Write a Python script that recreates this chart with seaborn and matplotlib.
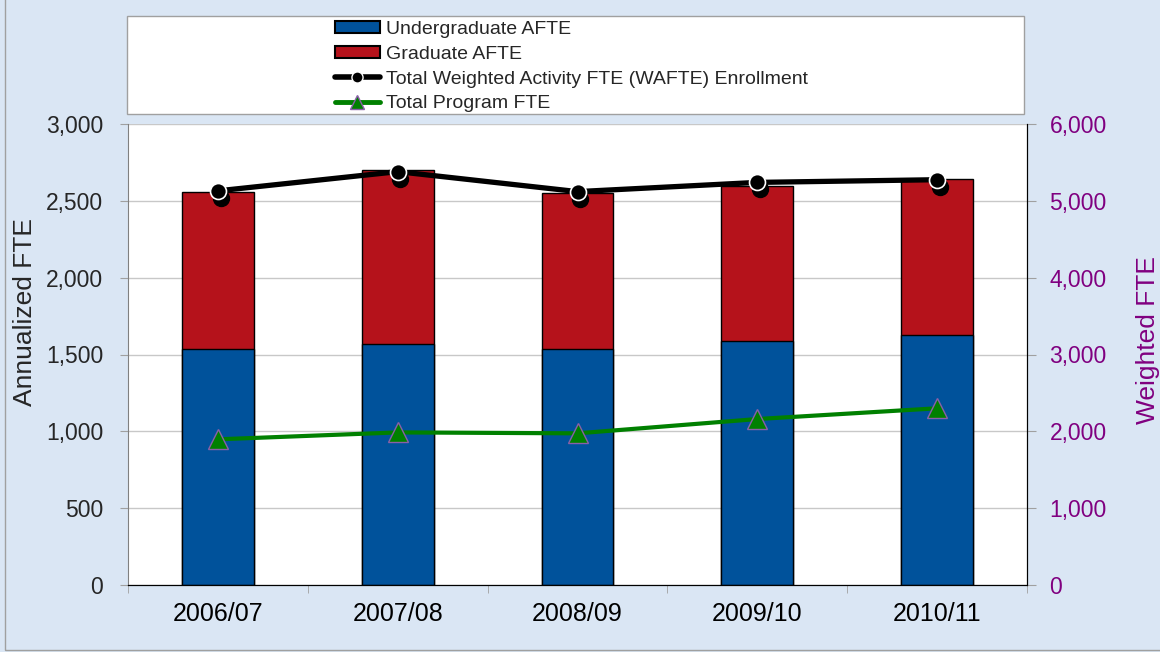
import numpy as np
import matplotlib
matplotlib.use("Agg")
import matplotlib.pyplot as plt
import seaborn as sns
from matplotlib.patches import Patch, Rectangle
from matplotlib.lines import Line2D
from matplotlib.ticker import FuncFormatter
from matplotlib.transforms import offset_copy

# values
years = ["2006/07", "2007/08", "2008/09", "2009/10", "2010/11"]
undergrad_afte = [1534, 1566, 1534, 1586, 1629]
graduate_afte = [1026, 1136, 1016, 1009, 1012]
wafte_total = [5130, 5380, 5120, 5240, 5275]       # right axis
program_fte = [948, 993, 987, 1080, 1150]           # left axis

BLUE = "#00529b"
RED = "#b5121b"
GREEN = "#008000"
PURPLE = "#800080"
BG = "#dae6f4"

sns.set_style("white")
plt.rcParams["font.family"] = ["Liberation Sans", "DejaVu Sans"]

W, H = 1160, 652
fig = plt.figure(figsize=(W / 100, H / 100), dpi=100, facecolor=BG)
ax = fig.add_axes([128 / W, 1 - 585 / H, (1027 - 128) / W, (585 - 124) / H])
ax.set_facecolor("white")

# white legend box and outer frame
fig.patches.append(Rectangle((127 / W, 1 - 114 / H), (1024 - 127) / W, (114 - 16) / H,
                             transform=fig.transFigure, facecolor="white",
                             edgecolor="#a0a0a0", lw=1, zorder=0))
fig.patches.append(Rectangle((5 / W, 2 / H), 1, 1, transform=fig.transFigure,
                             facecolor="none", edgecolor="#a0a0a0", lw=1, zorder=0))

totals = [u + g for u, g in zip(undergrad_afte, graduate_afte)]
x_pos = np.arange(len(years))

sns.barplot(x=years, y=totals, color=RED, edgecolor="black", linewidth=1,
            width=0.4, saturation=1, ax=ax)
sns.barplot(x=years, y=undergrad_afte, color=BLUE, edgecolor="black", linewidth=1,
            width=0.4, saturation=1, ax=ax)

ax.plot(x_pos, program_fte, color=GREEN, lw=3, marker="^", markersize=15,
        markerfacecolor=GREEN, markeredgecolor="#8a5fa8", markeredgewidth=1, zorder=5)

ax.set_ylim(0, 3000)
ax.set_yticks(np.arange(0, 3001, 500))
ax.set_xlim(-0.5, len(years) - 0.5)
ax.yaxis.set_major_formatter(FuncFormatter(lambda v, _: f"{v:,.0f}"))
ax.grid(axis="y", color="#c8c8c8", lw=1)
ax.set_axisbelow(True)

ax.set_xticks(x_pos)
ax.set_xticklabels(years)
ax.set_xticks(np.arange(-0.5, len(years), 1), minor=True)
ax.tick_params(axis="x", which="major", length=0, pad=12.5, labelsize=18, labelcolor="black")
ax.tick_params(axis="x", which="minor", length=5.8, color="#a0a0a0", direction="out", bottom=True)
ax.tick_params(axis="y", length=5.8, color="#a0a0a0", direction="out", pad=12,
               labelsize=16.5, left=True)
ax.set_xlabel("")
ax.set_ylabel("Annualized FTE", fontsize=19, va="center")
ax.yaxis.set_label_coords((25 - 128) / 899, 0.592)

ax.spines["top"].set_visible(False)
ax.spines["left"].set_color("#808080")
ax.spines["bottom"].set_color("black")
ax.spines["right"].set_color("black")

# right axis
ax2 = ax.twinx()
ax2.set_ylim(0, 6000)
ax2.set_yticks(np.arange(0, 6001, 1000))
ax2.yaxis.set_major_formatter(FuncFormatter(lambda v, _: f"{v:,.0f}"))
ax2.plot(x_pos, wafte_total, color="black", lw=3.8, solid_capstyle="round", zorder=6)
# marker shadow, then the markers
shadow = offset_copy(ax2.transData, fig=fig, x=2, y=-5, units="points")
ax2.plot(x_pos, wafte_total, linestyle="none", marker="o", markersize=11.5,
         markerfacecolor="black", markeredgecolor="black", transform=shadow, zorder=6.5)
ax2.plot(x_pos, wafte_total, linestyle="none", marker="o", markersize=11.5,
         markerfacecolor="black", markeredgecolor="white", markeredgewidth=1.2, zorder=7)
ax2.tick_params(axis="y", length=6.2, color="#a0a0a0", direction="out", pad=10,
                labelsize=16.5, labelcolor=PURPLE, right=True)
ax2.set_ylabel("Weighted FTE", fontsize=19, color=PURPLE, rotation=90, va="center")
ax2.yaxis.set_label_coords((1148 - 128) / 899, 0.531)
ax2.spines["top"].set_visible(False)
ax2.spines["left"].set_visible(False)
ax2.spines["right"].set_color("black")
ax2.spines["bottom"].set_color("black")

handles = [
    Patch(facecolor=BLUE, edgecolor="black", lw=1.5),
    Patch(facecolor=RED, edgecolor="black", lw=1.5),
    Line2D([], [], color="black", lw=4, marker="o", markersize=8,
           markerfacecolor="black", markeredgecolor="white"),
    Line2D([], [], color=GREEN, lw=3.5, marker="^", markersize=10,
           markerfacecolor=GREEN, markeredgecolor="#8a5fa8"),
]
labels = ["Undergraduate AFTE", "Graduate AFTE",
          "Total Weighted Activity FTE (WAFTE) Enrollment", "Total Program FTE"]
fig.legend(handles, labels, loc="upper left", bbox_to_anchor=(335 / W, 1 - 21 / H),
           frameon=False, fontsize=14, handlelength=2.3, handleheight=0.6,
           handletextpad=0.3, labelspacing=0.4, borderpad=0, borderaxespad=0)

fig.savefig("out.png", dpi=100, facecolor=BG)
